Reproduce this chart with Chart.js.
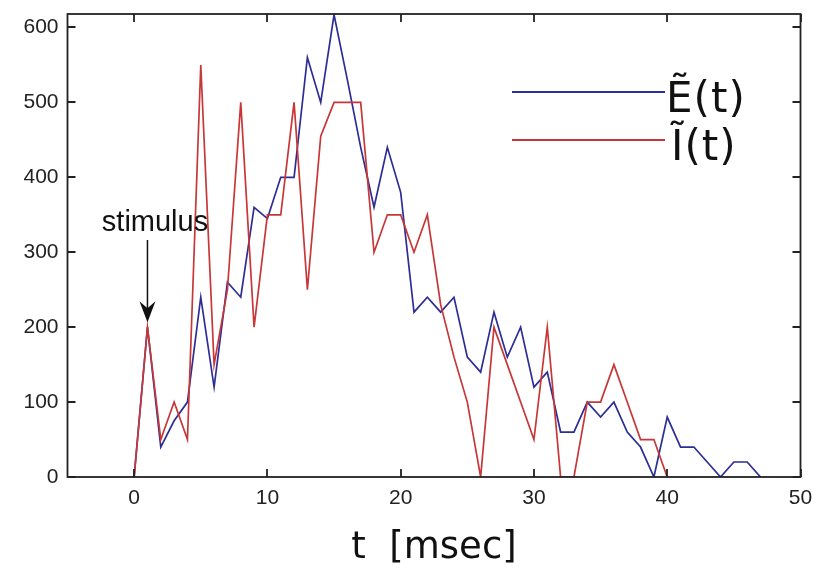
<!DOCTYPE html>
<html>
<head>
<meta charset="utf-8">
<script src="https://cdn.jsdelivr.net/npm/chart.js@4.4.0/dist/chart.umd.min.js"></script>
<style>
  html, body { margin: 0; padding: 0; background: #fff; }
  #wrap { width: 816px; height: 571px; }
</style>
</head>
<body>
<div id="wrap"><canvas id="myChart" width="816" height="571"></canvas></div>
<script>
// time in msec (one sample per msec)
const times = [0, 1, 2, 3, 4, 5, 6, 7, 8, 9, 10, 11, 12, 13, 14, 15, 16, 17, 18, 19, 20, 21, 22, 23,
  24, 25, 26, 27, 28, 29, 30, 31, 32, 33, 34, 35, 36, 37, 38, 39, 40, 41, 42, 43, 44, 45, 46, 47];

// E~(t), blue
const excValues = [0, 200, 40, 75, 100, 240, 120, 260, 240, 360, 345, 400, 400, 560, 500, 617,
  530, 440, 360, 440, 380, 220, 240, 220, 240, 160, 140, 220, 160, 200, 120, 140,
  60, 60, 100, 80, 100, 60, 40, 0, 80, 40, 40, 20, 0, 20, 20, 0];

// I~(t), red (ends at t = 40)
const inhValues = [0, 200, 50, 100, 50, 550, 150, 250, 500, 200, 350, 350, 500, 250, 455, 500,
  500, 500, 300, 350, 350, 300, 350, 230, 160, 100, 0, 200, 150, 100, 50, 200,
  0, 0, 100, 100, 150, 100, 50, 50, 0];

const xTicks = [0, 10, 20, 30, 40, 50];
const yTicks = [0, 100, 200, 300, 400, 500, 600];

const seriesLabels = ['\u1EBC(t)', '\u0128(t)'];
const blue = 'rgb(45, 45, 150)';
const red = 'rgb(200, 55, 55)';

const toPoints = (vals) => vals.map((v, i) => ({ x: times[i], y: v }));

// frame, inward ticks, legend and the stimulus arrow
const decorations = {
  id: 'decorations',
  afterDraw(chart) {
    const ctx = chart.ctx;
    const area = chart.chartArea;
    const xs = chart.scales.x;
    const ys = chart.scales.y;
    const tick = 8;

    ctx.save();
    ctx.strokeStyle = '#222';
    ctx.lineWidth = 1.8;
    ctx.strokeRect(area.left, area.top, area.right - area.left, area.bottom - area.top);

    ctx.beginPath();
    xTicks.forEach(v => {
      const px = Math.round(xs.getPixelForValue(v));
      ctx.moveTo(px, area.bottom); ctx.lineTo(px, area.bottom - tick);
      ctx.moveTo(px, area.top); ctx.lineTo(px, area.top + tick);
    });
    yTicks.forEach(v => {
      const py = Math.round(ys.getPixelForValue(v));
      ctx.moveTo(area.left, py); ctx.lineTo(area.left + tick, py);
      ctx.moveTo(area.right, py); ctx.lineTo(area.right - tick, py);
    });
    ctx.stroke();

    // legend
    const legendColors = [blue, red];
    const legendY = [92, 140];
    ctx.font = '42px "DejaVu Sans"';
    ctx.letterSpacing = '1px';
    ctx.textBaseline = 'middle';
    ctx.textAlign = 'left';
    legendColors.forEach((c, i) => {
      ctx.strokeStyle = c;
      ctx.lineWidth = 1.8;
      ctx.beginPath();
      ctx.moveTo(512, legendY[i]);
      ctx.lineTo(665, legendY[i]);
      ctx.stroke();
      ctx.fillStyle = '#111';
      ctx.fillText(seriesLabels[i], 666 + (i ? 5 : 0), legendY[i] + 9);
    });
    ctx.letterSpacing = '0px';

    // stimulus annotation
    const ax = xs.getPixelForValue(times[1]);
    const tipY = ys.getPixelForValue(inhValues[1]) - 5;
    ctx.fillStyle = '#111';
    ctx.font = '29px "Liberation Sans", Arial, sans-serif';
    ctx.textAlign = 'center';
    ctx.textBaseline = 'alphabetic';
    ctx.fillText('stimulus', 155, 231);
    ctx.strokeStyle = '#111';
    ctx.lineWidth = 1.5;
    ctx.beginPath();
    ctx.moveTo(ax, 240);
    ctx.lineTo(ax, tipY - 6);
    ctx.stroke();
    ctx.beginPath();
    ctx.moveTo(ax, tipY);
    ctx.lineTo(ax - 8, tipY - 21);
    ctx.lineTo(ax, tipY - 14);
    ctx.lineTo(ax + 8, tipY - 21);
    ctx.closePath();
    ctx.fill();
    ctx.restore();
  }
};

const tickFont = { family: '"Liberation Sans", Arial, sans-serif', size: 21 };

new Chart(document.getElementById('myChart'), {
  type: 'line',
  data: {
    datasets: [
      {
        label: seriesLabels[1],
        data: toPoints(inhValues),
        borderColor: red,
        borderWidth: 1.7,
        pointRadius: 0,
        tension: 0,
        fill: false,
      },
      {
        label: seriesLabels[0],
        data: toPoints(excValues),
        borderColor: blue,
        borderWidth: 1.7,
        pointRadius: 0,
        tension: 0,
        fill: false,
      },
    ],
  },
  options: {
    responsive: false,
    animation: false,
    layout: { padding: { left: 0, top: 14, right: 15.5, bottom: 0 } },
    plugins: { legend: { display: false }, tooltip: { enabled: false } },
    scales: {
      x: {
        type: 'linear',
        min: -5,
        max: 50,
        afterBuildTicks: (axis) => { axis.ticks = xTicks.map(v => ({ value: v })); },
        afterFit: (axis) => {
          axis.height = 94;
          axis.paddingLeft = 0;
          axis.paddingRight = 0;
        },
        grid: { display: false, drawTicks: false },
        border: { display: false },
        ticks: { color: '#222', font: tickFont, padding: 9, maxRotation: 0 },
        title: {
          display: true,
          text: 't  [msec]',
          color: '#111',
          font: { family: '"DejaVu Sans"', size: 37 },
          padding: { top: 0, bottom: 0 },
        },
      },
      y: {
        min: 0,
        max: 618,
        afterBuildTicks: (axis) => { axis.ticks = yTicks.map(v => ({ value: v })); },
        afterFit: (axis) => {
          axis.width = 67.5;
          axis.paddingTop = 0;
          axis.paddingBottom = 0;
        },
        grid: { display: false, drawTicks: false },
        border: { display: false },
        ticks: { color: '#222', font: tickFont, padding: 9 },
      },
    },
  },
  plugins: [decorations],
});
</script>
</body>
</html>
